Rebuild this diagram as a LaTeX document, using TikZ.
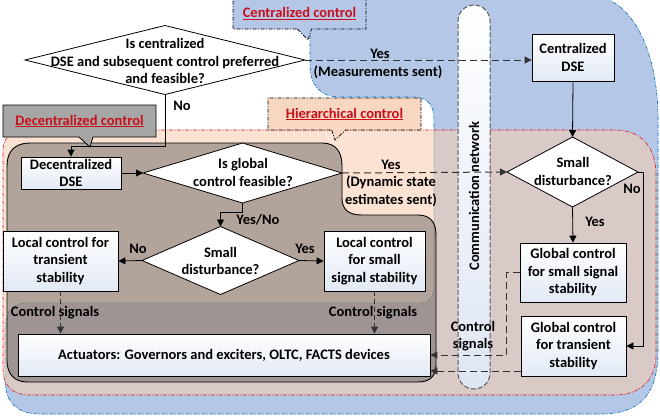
\documentclass[tikz,border=0pt]{standalone}
\usepackage{fontspec}
\setmainfont{Carlito}
\usetikzlibrary{arrows.meta,shapes.geometric,shapes.callouts}
\definecolor{bluefill}{RGB}{180,199,231}
\definecolor{blueline}{RGB}{0,112,192}
\definecolor{peach}{RGB}{248,203,173}
\definecolor{redline}{RGB}{220,20,30}
\definecolor{ured}{RGB}{200,16,26}
\definecolor{grayreg}{RGB}{70,70,70}
\definecolor{callgray}{RGB}{166,166,166}
\definecolor{callpeach}{RGB}{247,214,194}
\definecolor{boxblue}{RGB}{226,233,245}
\definecolor{capblue}{RGB}{222,230,244}
\definecolor{dline}{RGB}{50,50,50}
\begin{document}
\begin{tikzpicture}[x=1pt,y=-1pt,
  every node/.style={font=\fontsize{14.5}{17.5}\selectfont\bfseries},
  dashdot/.style={dash pattern=on 4pt off 1.5pt on 1pt off 1.5pt},
  box/.style={draw=black, line width=0.8pt, top color=white, bottom color=boxblue, align=center, inner sep=1pt},
  dia/.style={diamond, draw=black, line width=0.8pt, fill=white, inner sep=0pt, outer sep=0pt},
  lbl/.style={inner sep=0pt, align=center},
  arr/.style={draw=black, line width=0.8pt, -{Triangle[length=7pt,width=7pt]}},
  darr/.style={draw=dline, line width=1pt, dash pattern=on 7pt off 4pt, -{Triangle[length=7pt,width=7pt]}},
  sarr/.style={draw=dline, line width=0.9pt, dash pattern=on 5pt off 3pt, -{Triangle[length=7pt,width=7pt]}},
  callbox/.style={rectangle callout, callout pointer width=14pt, inner sep=0pt, align=center},
  ]
\useasboundingbox (0,0) rectangle (660,416);
\clip (0,0) rectangle (660,416);
% centralized region
\path[fill=bluefill, draw=blueline, line width=0.6pt, dashdot]
 (310,-5) -- (590,-5) .. controls (632,-3) and (657,50) .. (658,115)
 -- (658,350) .. controls (658,395) and (640,414) .. (600,414)
 -- (40,414) .. controls (15,414) and (5,400) .. (5,380)
 -- (5,330) .. controls (5,314) and (11,303) .. (26,303)
 -- (420,303) .. controls (430,303) and (434,296) .. (434,285)
 -- (434,120) .. controls (434,105) and (428,97) .. (412,97)
 -- (340,97) .. controls (320,97) and (310,85) .. (310,65) -- cycle;
% hierarchical region
\path[fill=peach, fill opacity=0.55, draw=redline, line width=0.6pt, dashdot]
 (25,130) -- (615,130) .. controls (642,130) and (656,148) .. (656,175)
 -- (656,355) .. controls (656,380) and (640,395) .. (615,395)
 -- (30,395) .. controls (12,395) and (3,385) .. (3,370)
 -- (3,150) .. controls (3,138) and (12,130) .. (25,130) -- cycle;
% decentralized region
\path[fill=grayreg, fill opacity=0.4, draw=black, line width=0.9pt]
 (30,143) -- (322,143) .. controls (336,143) and (342,152) .. (342,166)
 -- (342,198) .. controls (342,209) and (348,215) .. (362,215)
 -- (418,215) .. controls (430,215) and (436,222) .. (436,235)
 -- (436,365) .. controls (436,376) and (430,382) .. (418,382)
 -- (28,382) .. controls (14,382) and (7,374) .. (7,360)
 -- (7,166) .. controls (7,151) and (15,143) .. (30,143) -- cycle;
% communication network
\node[draw=black!65, line width=1pt, dash pattern=on 5pt off 2pt, rounded corners=16pt,
  minimum width=32pt, minimum height=384pt, inner sep=0pt, top color=white, bottom color=capblue] (comm) at (474,197) {};
\node[lbl, rotate=90] (commtxt) at (474,196) {Communication network};
% callouts
\node[callbox, fill=bluefill, draw=black, line width=0.7pt, dashdot, minimum width=133pt, minimum height=31pt,
  callout absolute pointer={(308,40)}] (cc) at (299.5,13.5) {\textcolor{ured}{\underline{Centralized control}}};
\node[callbox, fill=callgray, draw=black, line width=0.8pt, minimum width=153pt, minimum height=32pt,
  callout absolute pointer={(90,147)}] (dc) at (79.5,121) {\textcolor{ured}{\underline{Decentralized control}}};
\node[callbox, fill=callpeach, draw=black, line width=0.7pt, dashdot, minimum width=153pt, minimum height=32pt,
  callout absolute pointer={(335,140)}] (hc) at (344.5,114) {\textcolor{ured}{\underline{Hierarchical control}}};
% diamonds
\node[dia, minimum width=280pt, minimum height=69pt] (d1) at (165,60) {};
\node[lbl] (d1t) at (165,61) {Is centralized\\DSE and subsequent control preferred\\and feasible?};
\node[dia, minimum width=199pt, minimum height=60pt] (d2) at (242.5,173) {};
\node[lbl] (d2t) at (243,172.5) {Is global\\control feasible?};
\node[dia, minimum width=157pt, minimum height=68pt] (d3) at (220.5,260.5) {};
\node[lbl] (d3t) at (220.5,261) {Small\\disturbance?};
\node[dia, minimum width=131pt, minimum height=70pt] (d4) at (572.5,172) {};
\node[lbl] (d4t) at (573,171.5) {Small\\disturbance?};
% boxes
\node[box, minimum width=82pt, minimum height=47pt] (cdse) at (573,57.5) {Centralized\\DSE};
\node[box, minimum width=100pt, minimum height=32pt] (ddse) at (71,173) {Decentralized\\DSE};
\node[box, minimum width=115pt, minimum height=60pt] (ltrans) at (60.5,261) {Local control for\\transient\\stability};
\node[box, minimum width=101pt, minimum height=60pt] (lsmall) at (374.5,261) {Local control\\for small\\signal stability};
\node[box, minimum width=412pt, minimum height=42pt] (act) at (224,355) {Actuators: Governors and exciters, OLTC, FACTS devices};
\node[box, minimum width=106pt, minimum height=59pt] (gsmall) at (573,272.5) {Global control\\for small signal\\stability};
\node[box, minimum width=105pt, minimum height=60pt] (gtrans) at (573.5,346) {Global control\\for transient\\stability};
% connectors
\draw[arr] (d1.south) |- ([yshift=10pt]ddse.north) -- (ddse.north);
\draw[darr] (d1.east) -- (d1.east -| cdse.west);
\draw[arr] (cdse.south) -- (d4.north);
\draw[arr] (ddse.east) -- (d2.west);
\draw[arr] (d2.south) -- ++(0,9) -| (d3.north);
\draw[arr] (d3.west) -- (ltrans.east);
\draw[arr] (d3.east) -- (lsmall.west);
\draw[darr] (d2.east) -- (d4.west);
\draw[arr] (d4.south) -- (gsmall.north);
\draw[arr] (d4.east) -- ++(5,0) |- (gtrans.east);
\draw[sarr] (ltrans.south) -- (ltrans.south |- act.north);
\draw[sarr] (lsmall.south) -- (lsmall.south |- act.north);
\draw[darr] (gsmall.west) -- ++(-13,0) |- (act.east);
\draw[darr] ([yshift=-25pt]gtrans.west) -- ([yshift=-25pt]gtrans.west -| act.east);
% labels
\node[lbl] (l1) at (380,54) {Yes};
\node[lbl] (l2) at (378,72) {(Measurements sent)};
\node[lbl] (l3) at (182,106) {No};
\node[lbl] (l4) at (258,220) {Yes/No};
\node[lbl] (l5) at (138,249) {No};
\node[lbl] (l6) at (305,249) {Yes};
\node[lbl] (l7) at (391,183) {Yes\\(Dynamic state\\estimates sent)};
\node[lbl] (l8) at (595,222) {Yes};
\node[lbl] (l9) at (632,189) {No};
\node[lbl] (l10) at (55,313) {Control signals};
\node[lbl] (l11) at (373,313) {Control signals};
\node[lbl] (l12) at (473,336) {Control\\signals};
\end{tikzpicture}
\end{document}
